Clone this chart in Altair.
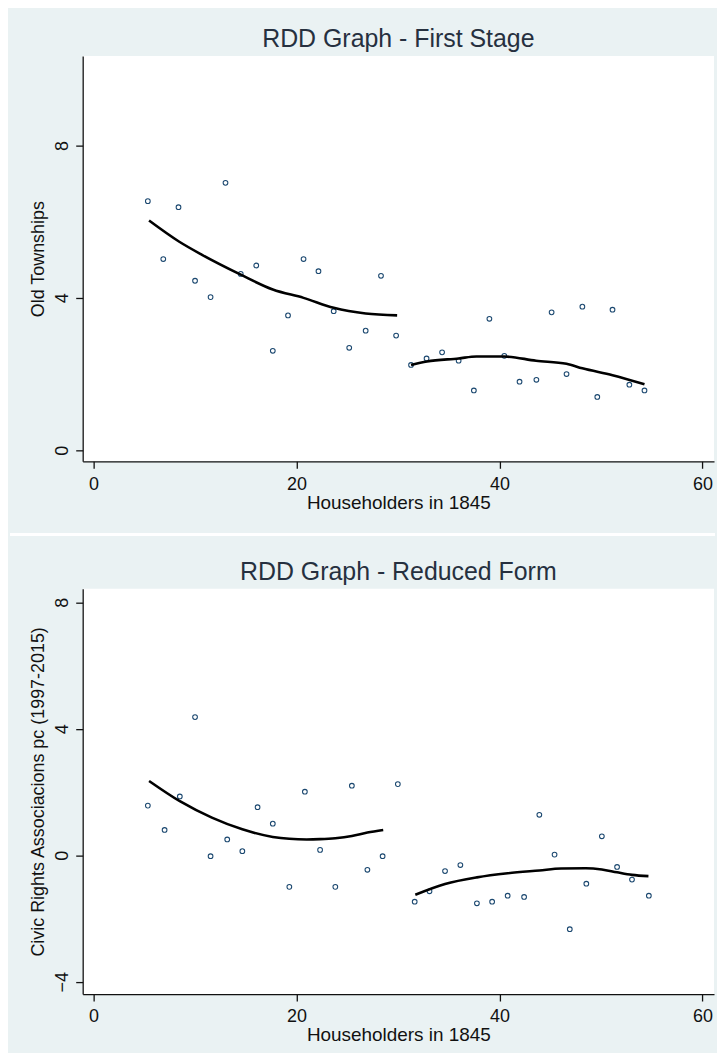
import altair as alt
import pandas as pd

# ---------------- data ----------------
# First stage: binned means
fs_x = [5.35, 6.87, 8.37, 10.0, 11.53, 13.0, 14.5, 16.03, 17.66, 19.16, 20.69,
        22.16, 23.66, 25.19, 26.81, 28.32, 29.81, 31.28, 32.81, 34.34, 35.97,
        37.47, 39.0, 40.47, 41.97, 43.63, 45.13, 46.6, 48.16, 49.63, 51.13,
        52.79, 54.28]
fs_y = [6.54, 5.02, 6.38, 4.45, 4.02, 7.02, 4.63, 4.85, 2.61, 3.54, 5.02,
        4.70, 3.65, 2.69, 3.14, 4.58, 3.01, 2.24, 2.41, 2.57, 2.35,
        1.57, 3.45, 2.48, 1.80, 1.85, 3.62, 2.0, 3.77, 1.40, 3.69,
        1.72, 1.57]
# First stage: fitted polynomial (left / right of cutoff)
fs_fit_left_x = [5.47, 8.41, 10.69, 14.5, 17.66, 20.69, 23.66, 26.81, 29.91]
fs_fit_left_y = [6.03, 5.48, 5.13, 4.61, 4.22, 4.0, 3.74, 3.59, 3.54]
fs_fit_right_x = [31.28, 32.85, 35.97, 37.73, 40.47, 43.6, 46.6, 48.16, 51.13, 54.28]
fs_fit_right_y = [2.24, 2.33, 2.41, 2.46, 2.46, 2.35, 2.27, 2.15, 1.97, 1.73]

# Reduced form: binned means
rf_x = [5.35, 7.0, 8.5, 10.0, 11.53, 13.17, 14.66, 16.16, 17.66, 19.29, 20.82,
        22.32, 23.82, 25.45, 26.98, 28.48, 29.98, 31.64, 33.1, 34.63, 36.14,
        37.77, 39.27, 40.8, 42.42, 43.92, 45.42, 46.92, 48.55, 50.08, 51.58,
        53.05, 54.71]
rf_y = [1.57, 0.80, 1.86, 4.37, -0.03, 0.50, 0.13, 1.52, 1.0, -1.0, 2.01,
        0.17, -1.0, 2.20, -0.46, -0.03, 2.25, -1.47, -1.14, -0.50, -0.31,
        -1.52, -1.47, -1.28, -1.32, 1.28, 0.02, -2.34, -0.90, 0.60, -0.37,
        -0.77, -1.28]
rf_fit_left_x = [5.47, 8.5, 11.66, 14.66, 17.66, 19.29, 21.0, 22.32, 23.82, 25.45, 26.98, 28.54]
rf_fit_left_y = [2.35, 1.71, 1.19, 0.82, 0.58, 0.52, 0.50, 0.51, 0.54, 0.61, 0.72, 0.80]
rf_fit_right_x = [31.7, 34.63, 37.77, 40.8, 43.92, 46.07, 48.5, 50.08, 51.58, 53.05, 54.67]
rf_fit_right_y = [-1.25, -0.91, -0.70, -0.57, -0.48, -0.42, -0.41, -0.45, -0.54, -0.62, -0.66]

x_ticks = [0, 20, 40, 60]
fs_y_ticks = [0, 4, 8]
rf_y_ticks = [-4, 0, 4, 8]

X_DOMAIN = [-1.07, 61.13]
FS_Y_DOMAIN = [-0.29, 10.35]
RF_Y_DOMAIN = [-4.39, 8.43]

FONT = "Liberation Sans"
BG = "#EAF2F3"
W, H = 634, 407


def panel(title, ytitle, px, py, lxl, lyl, lxr, lyr, ydomain, yticks, sep_visible):
    pts = pd.DataFrame({"x": px, "y": py})
    fit = pd.DataFrame({
        "x": lxl + lxr,
        "y": lyl + lyr,
        "seg": ["left"] * len(lxl) + ["right"] * len(lxr),
    })
    xenc = alt.X("x:Q",
                 scale=alt.Scale(domain=X_DOMAIN, nice=False, zero=False),
                 axis=alt.Axis(values=x_ticks, title="Householders in 1845",
                               labelPadding=7, titlePadding=0, format="d",
                               titleFontSize=19))
    yenc = alt.Y("y:Q",
                 scale=alt.Scale(domain=ydomain, nice=False, zero=False),
                 axis=alt.Axis(values=yticks, title=ytitle, labelAngle=-90,
                               labelAlign="center", labelBaseline="alphabetic",
                               labelPadding=8, titlePadding=6, format="d",
                               titleFontSize=18))
    points = alt.Chart(pts).mark_point(
        shape="circle", filled=False, size=22, strokeWidth=1.1,
        color="#1A476F", opacity=1
    ).encode(x=xenc, y=yenc)
    lines = alt.Chart(fit).mark_line(
        color="black", strokeWidth=2.6, interpolate="monotone"
    ).encode(x="x:Q", y="y:Q", detail="seg:N")
    sep = alt.Chart(pd.DataFrame({"k": [0]})).mark_rule(
        color="white", strokeWidth=3, strokeOpacity=1 if sep_visible else 0
    ).encode(x=alt.value(-73), x2=alt.value(W + 1),
             y=alt.value(480.5 if sep_visible else 0))
    return alt.layer(points, lines, sep).properties(
        width=W, height=H,
        title=alt.TitleParams(title, fontSize=25, font=FONT, color="#26303f",
                              fontWeight="normal", offset=4),
    )


top = panel("RDD Graph - First Stage", "Old Townships", fs_x, fs_y,
            fs_fit_left_x, fs_fit_left_y, fs_fit_right_x, fs_fit_right_y,
            FS_Y_DOMAIN, fs_y_ticks, True)
bottom = panel("RDD Graph - Reduced Form", "Civic Rights Associacions pc (1997-2015)",
               rf_x, rf_y, rf_fit_left_x, rf_fit_left_y, rf_fit_right_x, rf_fit_right_y,
               RF_Y_DOMAIN, rf_y_ticks, False)

chart = alt.vconcat(top, bottom, spacing=24).properties(
    background=BG,
    padding={"left": 0, "top": 17, "right": 0, "bottom": 6},
).configure_view(fill="white", stroke=None).configure_axis(
    domainColor="#111111", domainWidth=1.3, tickColor="#111111", tickWidth=1.3,
    tickSize=7, grid=False, labelFont=FONT, labelFontSize=18, labelColor="#111111",
    titleFont=FONT, titleFontWeight="normal", titleColor="#111111",
)

chart.save("out.html", embed_options={"renderer": "svg", "actions": False})
